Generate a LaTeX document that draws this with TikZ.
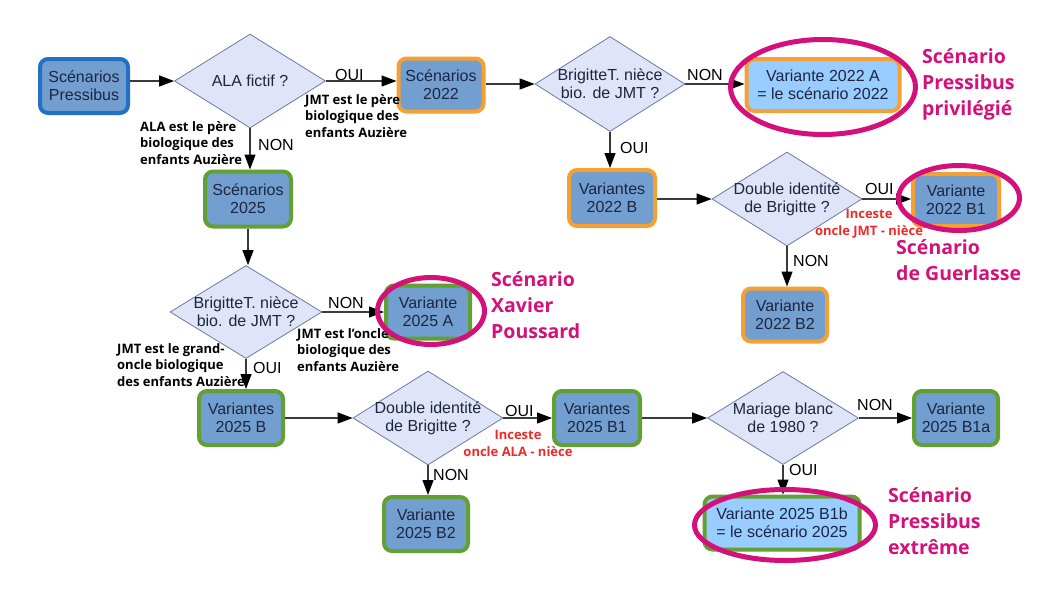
\documentclass[tikz,border=0pt]{standalone}
\usepackage{fontspec}
\setmainfont{Liberation Sans}
\newfontfamily\annot{Open Sans}
\usetikzlibrary{arrows.meta,shapes.geometric}
\definecolor{boxfill}{HTML}{729FCF}
\definecolor{lightfill}{HTML}{99CCFF}
\definecolor{bblue}{HTML}{2470C4}
\definecolor{borange}{HTML}{F5A035}
\definecolor{bgreen}{HTML}{62A034}
\definecolor{diafill}{HTML}{E0E4F8}
\definecolor{diadraw}{HTML}{6B7B9E}
\definecolor{magenta2}{HTML}{D4117A}
\definecolor{redtxt}{HTML}{EE2A2A}
\definecolor{navy}{HTML}{1C2541}
\definecolor{linecol}{HTML}{3A3A3A}
\tikzset{
  box/.style={rectangle, rounded corners=8pt, draw, line width=4pt, fill=boxfill,
    align=center, inner sep=0pt, text=navy, font=\fontsize{16}{18}\selectfont},
  bluebox/.style={box, draw=bblue},
  orangebox/.style={box, draw=borange},
  greenbox/.style={box, draw=bgreen},
  dia/.style={diamond, draw=diadraw, fill=diafill, line width=0.8pt, inner sep=0pt},
  dtext/.style={align=center, text=navy, inner sep=0pt, font=\fontsize{16}{18}\selectfont},
  ell/.style={ellipse, draw=magenta2, line width=5pt, inner sep=0pt},
  conn/.style={draw=linecol, line width=1.2pt, -{Triangle[length=15pt,width=11pt,color=black]}},
  elab/.style={anchor=west, inner sep=0pt, text=black, font=\fontsize{16}{18}\selectfont},
  note/.style={anchor=west, align=left, inner sep=0pt, text=black, font=\annot\bfseries\fontsize{13}{16.3}\selectfont},
  rednote/.style={align=center, inner sep=0pt, text=redtxt, font=\annot\bfseries\fontsize{13}{17}\selectfont},
  scen/.style={anchor=west, align=left, inner sep=0pt, text=magenta2, font=\annot\bfseries\fontsize{19.5}{26}\selectfont}
}
\begin{document}
\begin{tikzpicture}[x=1pt,y=-1pt]
\useasboundingbox[fill=white] (0,0) rectangle (1040,590);

% boxes
\node[bluebox, minimum width=88pt, minimum height=54pt] (sp) at (84,86) {Scénarios\\Pressibus};
\node[orangebox, minimum width=85pt, minimum height=53pt] (s22) at (441,85) {Scénarios\\2022};
\node[orangebox, fill=lightfill, minimum width=153pt, minimum height=52pt] (v22a) at (823,85) {Variante 2022 A\\= le scénario 2022};
\node[orangebox, minimum width=86pt, minimum height=56pt] (v22b) at (612,198) {Variantes\\2022 B};
\node[orangebox, minimum width=86pt, minimum height=52pt] (v22b1) at (956,200) {Variante\\2022 B1};
\node[orangebox, minimum width=84pt, minimum height=53pt] (v22b2) at (785,315) {Variante\\2022 B2};
\node[greenbox, minimum width=86pt, minimum height=55pt] (s25) at (248,199) {Scénarios\\2025};
\node[greenbox, minimum width=84pt, minimum height=53pt] (v25a) at (428,312) {Variante\\2025 A};
\node[greenbox, minimum width=84pt, minimum height=54pt] (v25b) at (241,418) {Variantes\\2025 B};
\node[greenbox, minimum width=86pt, minimum height=54pt] (v25b1) at (597,418) {Variantes\\2025 B1};
\node[greenbox, minimum width=84pt, minimum height=54pt] (v25b2) at (426,524) {Variante\\2025 B2};
\node[greenbox, minimum width=84pt, minimum height=54pt] (v25b1a) at (956,418) {Variante\\2025 B1a};
\node[greenbox, fill=lightfill, minimum width=155pt, minimum height=53pt] (v25b1b) at (782,523) {Variante 2025 B1b\\= le scénario 2025};

% diamonds
\node[dia, minimum width=151pt, minimum height=94pt, label={[dtext]center:ALA fictif ?}] (d1) at (250,81) {};
\node[dia, minimum width=150pt, minimum height=95pt, label={[dtext]center:BrigitteT. nièce\\bio. de JMT ?}] (d2) at (610,84) {};
\node[dia, minimum width=150pt, minimum height=94pt, label={[dtext]center:Double identité\\de Brigitte ?}] (d3) at (787,199) {};
\node[dia, minimum width=152pt, minimum height=93pt, label={[dtext]center:BrigitteT. nièce\\bio. de JMT ?}] (d4) at (246,312) {};
\node[dia, minimum width=150pt, minimum height=94pt, label={[dtext]center:Double identité\\de Brigitte ?}] (d5) at (428,418) {};
\node[dia, minimum width=151pt, minimum height=93pt, label={[dtext]center:Mariage blanc\\de 1980 ?}] (d6) at (783,418) {};

% connectors
\draw[conn] (sp.east |- d1.west) -- (d1.west);
\draw[conn] (d1.east) -- (d1.east -| s22.west);
\draw[conn] (s22.east |- d2.west) -- (d2.west);
\draw[conn] (d2.east) -- (d2.east -| v22a.west);
\draw[conn] (d2.south) -- (d2.south |- v22b.north);
\draw[conn] (v22b.east |- d3.west) -- (d3.west);
\draw[conn] (d3.east) -- (d3.east -| v22b1.west);
\draw[conn] (d3.south) -- (d3.south |- v22b2.north);
\draw[conn] (d1.south) -- (d1.south |- s25.north);
\draw[conn] (s25.south |- s25.south) -- (s25.south |- d4.north);
\draw[conn] (d4.east) -- (d4.east -| v25a.west);
\draw[conn] (d4.south) -- (d4.south |- v25b.north);
\draw[conn] (v25b.east |- d5.west) -- (d5.west);
\draw[conn] (d5.east) -- (d5.east -| v25b1.west);
\draw[conn] (d5.south) -- (d5.south |- v25b2.north);
\draw[conn] (v25b1.east |- d6.west) -- (d6.west);
\draw[conn] (d6.east) -- (d6.east -| v25b1a.west);
\draw[conn] (d6.south) -- (d6.south |- v25b1b.north);

% edge labels
\node[elab] (l1) at (335,75) {OUI};
\node[elab] (l2) at (258,145) {NON};
\node[elab] (l3) at (687,75) {NON};
\node[elab] (l4) at (620,148) {OUI};
\node[elab] (l5) at (865,189) {OUI};
\node[elab] (l6) at (793,261) {NON};
\node[elab] (l7) at (328,303) {NON};
\node[elab] (l8) at (253,368) {OUI};
\node[elab] (l9) at (505,411) {OUI};
\node[elab] (l10) at (433,475) {NON};
\node[elab] (l11) at (857,405) {NON};
\node[elab] (l12) at (789,470) {OUI};

% annotations
\node[note] (a1) at (140,143) {ALA est le père\\biologique des\\enfants Auzière};
\node[note] (a2) at (305,116) {JMT est le père\\biologique des\\enfants Auzière};
\node[note] (a3) at (117,365) {JMT est le grand-\\oncle biologique\\des enfants Auzière};
\node[note] (a4) at (297,350) {JMT est l’oncle\\biologique des\\enfants Auzière};
\node[rednote] (r1) at (869,223.5) {Inceste\\oncle JMT - nièce};
\node[rednote] (r2) at (518,443.5) {Inceste\\oncle ALA - nièce};

% highlight ellipses
\node[ell, minimum width=185pt, minimum height=95pt] (e1) at (823,87) {};
\node[ell, minimum width=121pt, minimum height=65pt] (e2) at (959,198) {};
\node[ell, minimum width=107pt, minimum height=67pt] (e3) at (431,311) {};
\node[ell, minimum width=181pt, minimum height=71pt] (e4) at (785,525) {};

% scenario texts
\node[scen] (t1) at (922,84) {Scénario\\Pressibus\\privilégié};
\node[scen] (t2) at (896,260) {Scénario\\de Guerlasse};
\node[scen] (t3) at (491,305) {Scénario\\Xavier\\Poussard};
\node[scen] (t4) at (888,521) {Scénario\\Pressibus\\extrême};
\end{tikzpicture}
\end{document}
